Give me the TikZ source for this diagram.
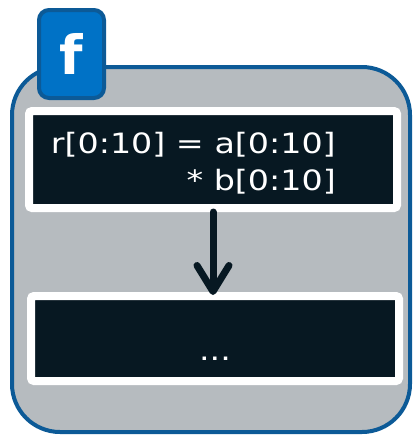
\documentclass[tikz,border=0pt]{standalone}
\usepackage{fontspec}
\usetikzlibrary{arrows.meta,shadows}
\newfontfamily\codefont[FakeStretch=1.19]{DejaVu Sans}
\newfontfamily\tabfont{DejaVu Sans}

\definecolor{framefill}{HTML}{B6BBBF}
\definecolor{frameblue}{HTML}{0C5A97}
\definecolor{tabblue}{HTML}{0072C6}
\definecolor{codedark}{HTML}{071822}

\begin{document}
\begin{tikzpicture}[x=1pt, y=-1pt,
                    frame/.style={draw=frameblue, fill=framefill, line width=4pt,
                                  rounded corners=48pt, minimum width=398pt, minimum height=365pt},
                    tab/.style={draw=frameblue, fill=tabblue, line width=4pt, rounded corners=10pt,
                                minimum width=65pt, minimum height=88pt, inner sep=0pt,
                                text=white, font=\tabfont\bfseries\fontsize{54}{54}\selectfont},
                    codebox/.style={draw=white, fill=codedark, line width=8pt, rounded corners=3pt,
                                    minimum width=368pt, inner sep=0pt,
                                    drop shadow={shadow xshift=1.5pt, shadow yshift=-2.5pt, opacity=0.3}},
                    code/.style={text=white, inner sep=0pt, align=right,
                                 font=\codefont\fontsize{28}{37}\selectfont},
                    flow/.style={draw=codedark, line width=7pt, line cap=round,
                                 -{Straight Barb[length=26pt, width=32pt, line cap=round, line join=round]}}]

  \useasboundingbox (0,0) rectangle (413,437);

  \node[frame] (frame) at (211,249.5) {};
  \node[tab] (tab) at (71.5,54) {f};

  \node[codebox, minimum height=97pt] (mul) at (213,159.5) {};
  \node[codebox, minimum height=85pt] (rest) at (215,338.5) {};

  \node[code, anchor=north east] (mulcode) at (336,132) {r[0:10] = a[0:10]\\* b[0:10]};
  \node[code, anchor=base] (restcode) at (215,360) {...};

  \draw[flow] (mul.south) -- ([shift={(0,3)}]mul.south |- rest.north);

\end{tikzpicture}
\end{document}
